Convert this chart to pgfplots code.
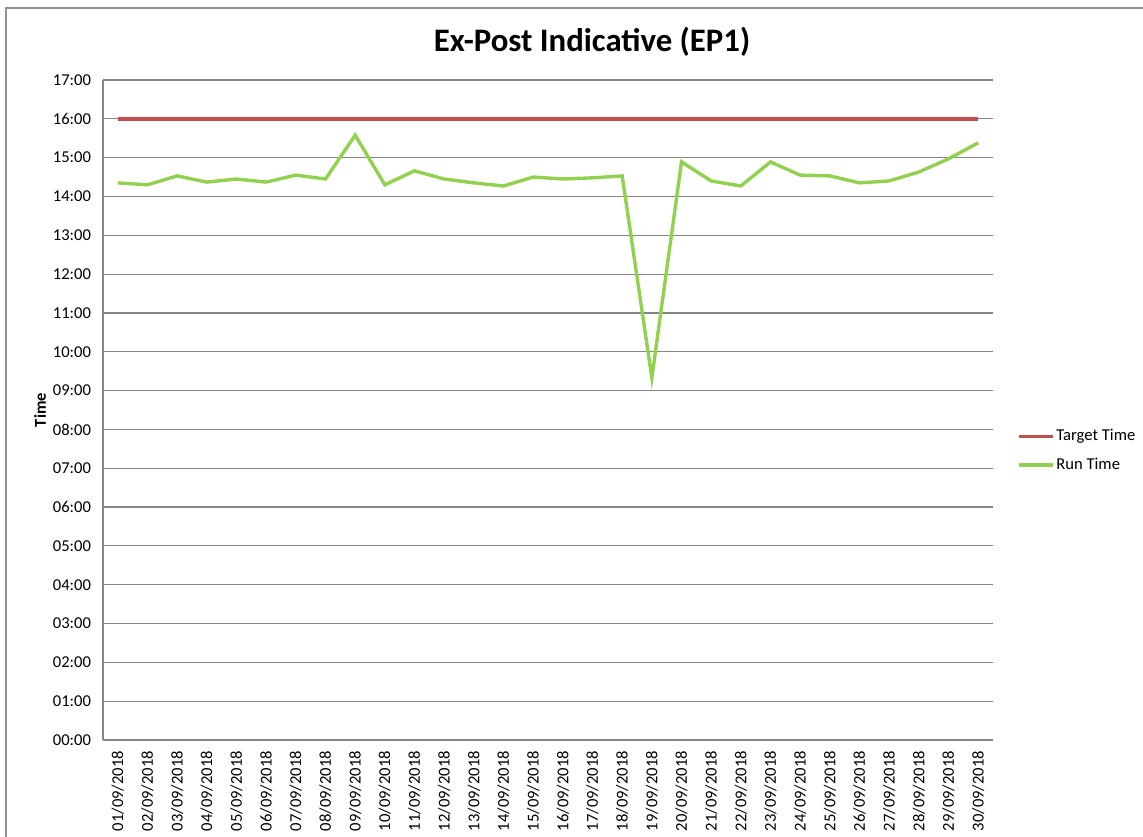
\documentclass[border=0pt]{standalone}
\usepackage{pgfplots}
\pgfplotsset{compat=1.18}
\usepackage{fontspec}
\setmainfont{Carlito}
\definecolor{tgtred}{HTML}{C0504D}
\definecolor{rungreen}{HTML}{92D050}
\definecolor{gridgray}{HTML}{868686}
\begin{document}
\begin{tikzpicture}[x=1pt,y=1pt]
\path[use as bounding box] (0,0) rectangle (571.5,418);
\draw[gridgray!90,line width=1pt] (3,-5) -- (3,414) -- (580,414);
\node[font=\fontsize{16.4}{18}\selectfont\bfseries] at (296,397) {Ex-Post Indicative (EP1)};
\begin{axis}[
  at={(51.5pt,48pt)}, anchor=south west,
  scale only axis, width=445pt, height=330pt,
  xmin=-0.5, xmax=29.5, ymin=0, ymax=17,
  axis x line*=bottom, axis y line*=left,
  axis line style={gridgray, line width=0.6pt, -},
  ytick={0,...,17},
  yticklabels={00:00,01:00,02:00,03:00,04:00,05:00,06:00,07:00,08:00,09:00,10:00,11:00,12:00,13:00,14:00,15:00,16:00,17:00},
  xtick={0,...,29},
  xticklabels={01/09/2018,02/09/2018,03/09/2018,04/09/2018,05/09/2018,06/09/2018,07/09/2018,08/09/2018,09/09/2018,10/09/2018,11/09/2018,12/09/2018,13/09/2018,14/09/2018,15/09/2018,16/09/2018,17/09/2018,18/09/2018,19/09/2018,20/09/2018,21/09/2018,22/09/2018,23/09/2018,24/09/2018,25/09/2018,26/09/2018,27/09/2018,28/09/2018,29/09/2018,30/09/2018},
  major tick length=0pt,
  ymajorgrids, grid style={gridgray, line width=0.6pt},
  tick label style={font=\fontsize{8.3}{10}\selectfont, black},
  xticklabel style={rotate=90, anchor=east},
  xticklabel shift=2pt,
  yticklabel style={xshift=-2.5pt},
  ylabel={Time},
  ylabel style={font=\fontsize{8.3}{10}\selectfont\bfseries, at={(axis description cs:-0.0708,0.5)}, anchor=center, rotate=0},
  legend style={at={(axis description cs:1.0265,0.438)}, anchor=west, draw=none, fill=none,
    font=\fontsize{8.3}{10}\selectfont, row sep=5pt, inner sep=0pt,
    nodes={inner sep=1pt}},
  legend cell align=left,
  legend image code/.code={\draw[#1] (0pt,0pt) -- (17pt,0pt);},
]
\addplot[tgtred, line width=1.7pt, no markers] coordinates {
(0,16) (1,16) (2,16) (3,16) (4,16) (5,16) (6,16) (7,16) (8,16) (9,16)
(10,16) (11,16) (12,16) (13,16) (14,16) (15,16) (16,16) (17,16) (18,16) (19,16)
(20,16) (21,16) (22,16) (23,16) (24,16) (25,16) (26,16) (27,16) (28,16) (29,16)};
\addlegendentry{Target Time}
\addplot[rungreen, line width=1.7pt, no markers] coordinates {
(0,14.35) (1,14.30) (2,14.53) (3,14.37) (4,14.45) (5,14.37) (6,14.55) (7,14.45) (8,15.58) (9,14.30)
(10,14.66) (11,14.45) (12,14.35) (13,14.27) (14,14.50) (15,14.45) (16,14.48) (17,14.53) (18,9.33) (19,14.89)
(20,14.40) (21,14.27) (22,14.89) (23,14.55) (24,14.53) (25,14.35) (26,14.40) (27,14.63) (28,14.97) (29,15.38)};
\addlegendentry{Run Time}
\end{axis}
\end{tikzpicture}
\end{document}
